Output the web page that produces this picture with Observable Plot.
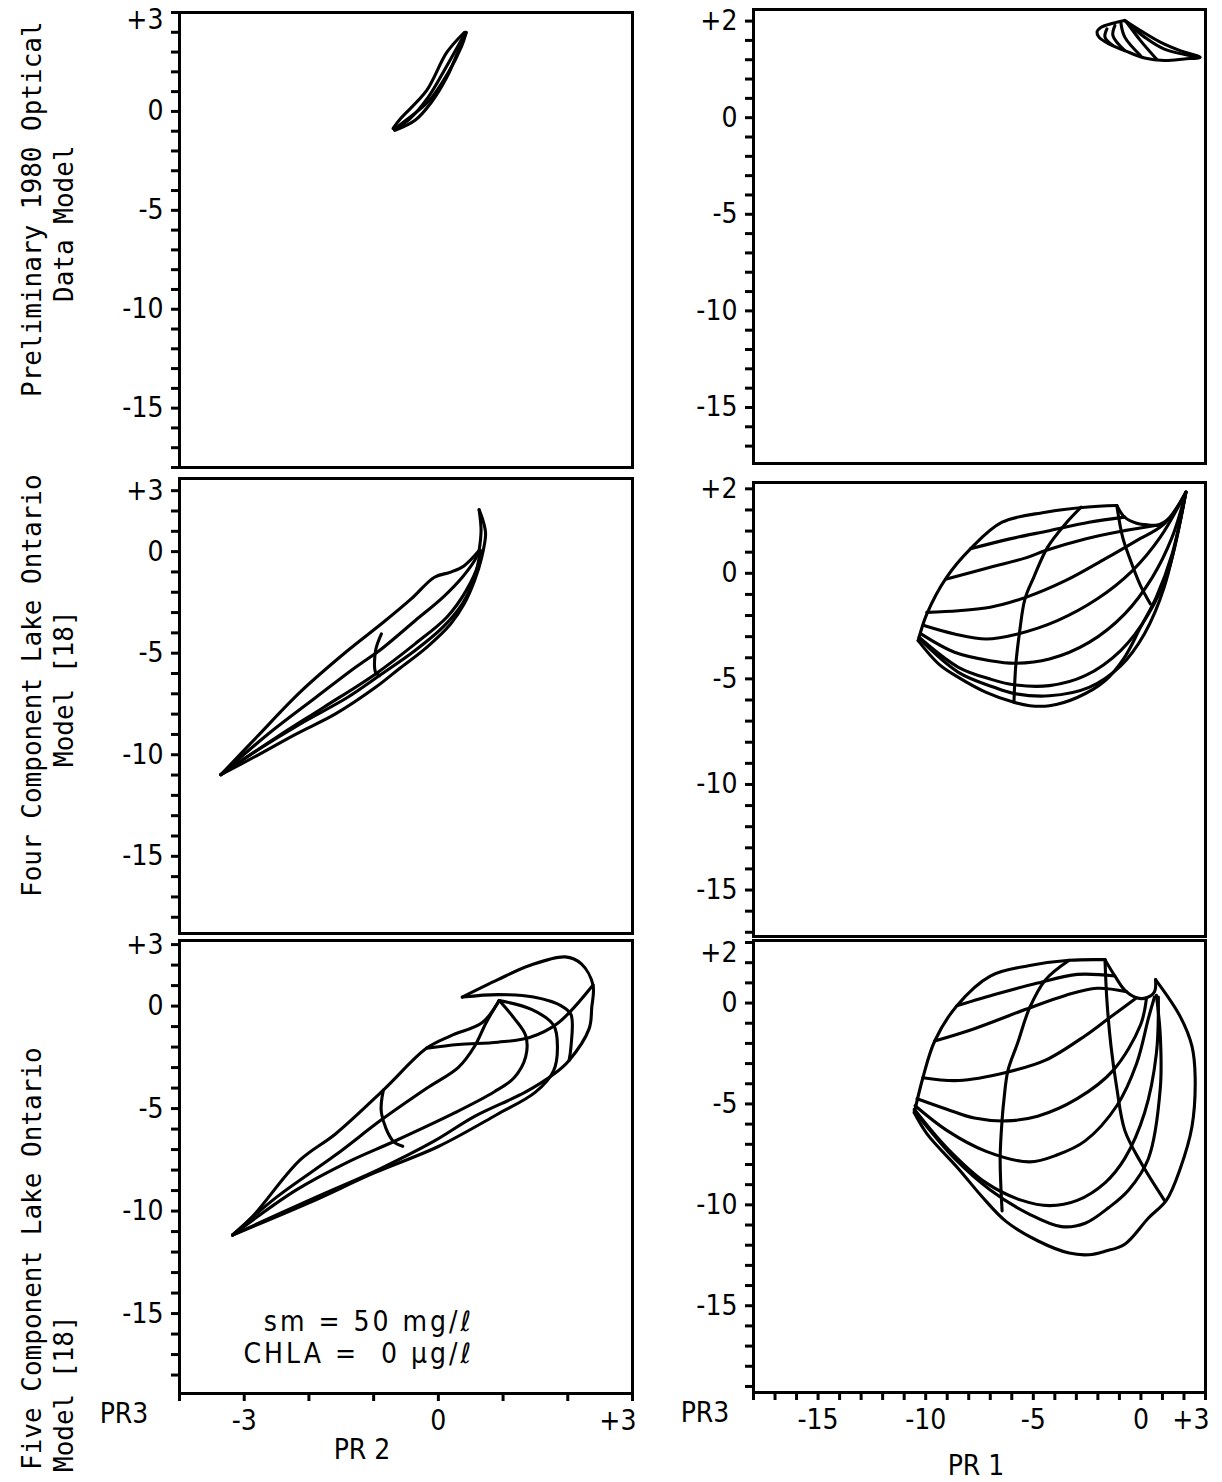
<!DOCTYPE html>
<html><head><meta charset="utf-8">
<script src="https://cdn.jsdelivr.net/npm/d3@7"></script>
<script src="https://cdn.jsdelivr.net/npm/@observablehq/plot@0.6"></script>
<style>
body{margin:0;background:#fff;}
#page{position:relative;width:1222px;height:1482px;background:#fff;overflow:hidden;color:#000;}
.lbl{position:absolute;white-space:pre;font-family:'Liberation Sans Narrow','DejaVu Sans Condensed','Liberation Sans',sans-serif;font-size:28px;line-height:28px;color:#000;}
.rot{position:absolute;white-space:pre;font-family:'DejaVu Sans Mono',monospace;font-size:26px;line-height:26px;transform-origin:0 0;transform:rotate(-90deg);color:#000;}
</style></head><body><div id="page"></div>
<script>
// ---------- axes / labels ----------
const pr2Domain = [-4, 3];
const pr1Domain = [-18, 3];
const pr3DomainsLeft = [[-18.0, 5.0], [-18.8, 3.6], [-18.9, 3.2]];
const pr3DomainsRight = [[-17.9, 5.6], [-17.2, 4.3], [-19.3, 3.1]];
const pr3LabelsLeft = ["+3", "0", "-5", "-10", "-15"];
const pr3LabelPosLeft = [[4.6, 0, -5, -10, -15], [3, 0, -5, -10, -15], [3, 0, -5, -10, -15]];
const pr3LabelsRight = ["+2", "0", "-5", "-10", "-15"];
const pr3LabelPosRight = [[5.0, 0, -5, -10, -15], [4.0, 0, -5, -10, -15], [2.5, 0, -5, -10, -15]];
const pr2TickValues = [-3, 0, 3];
const pr2TickLabels = ["-3", "0", "+3"];
const pr1TickValues = [-15, -10, -5, 0, 3];
const pr1TickLabels = ["-15", "-10", "-5", "0", "+3"];
const rowTitles = [["Preliminary 1980 Optical", "Data Model"], ["Four Component Lake Ontario", "Model [18]"], ["Five Component Lake Ontario", "Model [18]"]];
const annotation = ["sm = 50 mg/ℓ", "CHLA =  0 μg/ℓ"];

// ---------- curves: [PR, PR3] ----------
const opticalPR2 = [
  [[-0.70,-0.86],[-0.58,-0.35],[-0.18,1.06],[0.13,2.98],[0.40,3.99]],
  [[-0.68,-0.92],[-0.45,-0.40],[-0.15,0.75],[0.13,2.30],[0.42,3.99]],
  [[-0.68,-0.90],[-0.50,-0.45],[-0.14,0.55],[0.16,2.00],[0.36,3.30],[0.43,3.99]],
  [[-0.67,-0.96],[-0.36,-0.45],[-0.11,0.45],[0.13,1.72],[0.33,3.23],[0.43,3.99]]
];
const opticalPR1 = [
  [[-0.75,5.03],[-0.02,4.51],[0.90,3.91],[1.82,3.47],[2.74,3.13],[2.01,3.04],[1.09,2.96],[0.17,3.09],[-0.75,3.47],[-1.49,3.82],[-1.95,4.17],[-2.04,4.43],[-1.85,4.68],[-1.30,4.89],[-0.75,5.03]],
  [[-1.58,4.60],[-1.67,4.17],[-1.30,3.73]],
  [[-1.21,4.77],[-1.30,4.25],[-0.75,3.47]],
  [[-0.93,4.89],[-0.75,4.17],[-0.02,3.22]],
  [[-0.66,4.94],[-0.02,3.99],[0.72,3.04]],
  [[-0.75,5.03],[0.17,4.17],[1.09,3.55],[2.74,3.13]]
];
const fourPR2 = [
  [[-3.36,-10.98],[-2.81,-9.14],[-2.14,-6.93],[-1.40,-4.87],[-0.85,-3.48],[-0.42,-2.33],[-0.06,-1.26],[0.19,-1.01],[0.40,-0.69],[0.63,0.05]],
  [[-3.36,-10.98],[-2.63,-8.98],[-1.89,-7.17],[-1.28,-5.69],[-0.91,-4.87],[-0.36,-3.40],[0.07,-2.25],[0.37,-1.26],[0.56,-0.44],[0.63,0.05]],
  [[-3.36,-10.98],[-2.50,-9.14],[-1.77,-7.66],[-0.97,-6.02],[-0.36,-4.54],[0.13,-3.23],[0.43,-1.92],[0.62,-0.60],[0.65,0.05]],
  [[-3.36,-10.98],[-2.81,-9.80],[-2.14,-8.49],[-1.40,-7.17],[-0.91,-6.10],[-0.36,-4.87],[0.07,-3.72],[0.37,-2.57],[0.56,-1.26],[0.65,0.05]],
  [[-3.36,-10.98],[-2.81,-10.05],[-2.20,-8.98],[-1.59,-7.99],[-0.97,-6.68],[-0.61,-5.78],[-0.18,-4.71],[0.19,-3.56],[0.40,-2.57],[0.56,-1.42],[0.67,-0.28],[0.73,0.87],[0.69,1.53],[0.63,2.06]],
  [[-0.88,-4.05],[-0.97,-4.87],[-0.97,-5.94],[-0.91,-6.10]],
  [[0.63,0.05],[0.66,1.04],[0.63,2.06]]
];
const fourPR1 = [
  [[-10.35,-3.19],[-9.95,-1.93],[-9.03,-0.19],[-7.92,1.16],[-6.45,2.42],[-4.43,2.89],[-2.59,3.13],[-1.12,3.21]],
  [[-1.12,3.21],[-0.76,2.66],[-0.20,2.37],[0.35,2.29],[0.81,2.29],[1.36,2.66],[2.09,3.84]],
  [[-10.35,-3.19],[-9.39,-4.30],[-8.48,-4.93],[-7.19,-5.64],[-5.90,-6.11],[-5.17,-6.27],[-4.25,-6.27],[-2.96,-5.88],[-1.67,-5.09],[-0.76,-3.98],[-0.02,-2.56],[0.71,-1.14],[1.45,0.92],[2.09,3.84]],
  [[-7.92,1.16],[-6.09,1.63],[-4.25,2.02],[-2.41,2.42],[-0.76,2.66]],
  [[-9.03,-0.27],[-7.00,0.29],[-5.35,0.73],[-4.43,1.08],[-2.59,1.63],[-0.76,2.02],[0.81,2.29]],
  [[-9.95,-1.85],[-8.48,-1.77],[-7.00,-1.61],[-5.35,-1.14],[-3.51,-0.35],[-1.67,0.68],[-0.20,1.55],[1.08,2.34],[2.09,3.84]],
  [[-10.04,-2.48],[-8.66,-2.87],[-7.19,-3.11],[-5.72,-2.87],[-3.88,-2.24],[-2.04,-1.22],[-0.39,0.13],[0.90,1.71],[2.09,3.84]],
  [[-10.22,-2.87],[-8.66,-3.74],[-7.00,-4.14],[-5.81,-4.26],[-4.25,-4.06],[-2.41,-3.27],[-0.76,-1.93],[0.53,-0.19],[1.45,1.71],[2.09,3.84]],
  [[-10.31,-3.03],[-8.48,-4.45],[-7.00,-5.01],[-5.90,-5.28],[-4.25,-5.32],[-2.59,-4.85],[-0.94,-3.66],[0.35,-1.93],[1.27,0.13],[2.09,3.84]],
  [[-10.28,-3.11],[-8.48,-4.69],[-6.82,-5.40],[-5.90,-5.69],[-4.25,-5.80],[-2.41,-5.40],[-0.94,-4.38],[0.16,-2.87],[1.08,-0.66],[2.09,3.84]],
  [[-2.78,3.13],[-3.51,2.34],[-4.34,1.23],[-4.98,-0.19],[-5.39,-1.22],[-5.63,-2.72],[-5.81,-4.30],[-5.90,-6.11]],
  [[-1.12,3.21],[-0.85,1.71],[-0.48,0.60],[-0.02,-0.58],[0.44,-1.45]]
];
const fivePR2 = [
  [[-3.18,-11.17],[-1.89,-9.32],[-0.91,-7.95],[-0.06,-6.58],[0.56,-5.38],[1.35,-4.19],[1.78,-3.33],[2.02,-2.65],[2.33,-1.10],[2.37,-0.08],[2.39,1.03],[2.21,2.06],[1.96,2.40],[1.41,1.98],[0.92,1.29],[0.37,0.44]],
  [[0.37,0.44],[0.92,0.56],[1.47,0.44],[1.90,0.01],[2.05,-0.42],[2.05,-1.96],[2.02,-2.65]],
  [[-0.18,-2.05],[0.31,-1.87],[0.92,-1.76],[1.41,-1.53],[1.84,-0.85],[2.39,1.03]],
  [[-3.18,-11.17],[-2.87,-10.26],[-2.14,-7.52],[-1.59,-6.24],[-0.85,-4.10],[-0.18,-2.05],[0.19,-1.45],[0.68,-0.80],[0.94,0.27]],
  [[-3.18,-11.17],[-2.50,-9.32],[-1.59,-7.27],[-0.88,-5.55],[-0.18,-4.01],[0.31,-2.99],[0.56,-1.96],[0.74,-0.80],[0.94,0.27]],
  [[-3.18,-11.17],[-2.20,-8.98],[-1.40,-7.61],[-0.67,-6.58],[0.25,-5.21],[0.86,-4.19],[1.17,-3.50],[1.35,-2.47],[1.35,-1.45],[1.17,-0.59],[0.94,0.27]],
  [[-3.18,-11.17],[-2.00,-9.60],[-1.00,-8.15],[0.00,-6.85],[0.90,-5.30],[1.50,-4.20],[1.78,-3.16],[1.84,-1.96],[1.78,-0.93],[1.44,-0.16],[0.94,0.27]],
  [[-0.85,-4.10],[-0.88,-5.21],[-0.70,-6.58],[-0.55,-6.84]]
];
const fivePR1 = [
  [[-10.53,-5.44],[-10.13,-3.70],[-9.58,-1.88],[-8.56,-0.14],[-7.00,1.34],[-5.17,1.86],[-3.33,2.12],[-1.67,2.15]],
  [[-1.67,2.15],[-1.21,1.34],[-0.75,0.64],[-0.20,0.26],[0.26,0.26],[0.63,0.56],[0.68,1.16]],
  [[0.68,1.16],[1.82,-0.66],[2.37,-2.14],[2.52,-3.70],[2.37,-6.13],[1.82,-8.22],[1.18,-9.78],[0.35,-10.65],[-0.75,-11.95],[-1.67,-12.30],[-2.41,-12.47],[-3.33,-12.39],[-4.80,-11.78],[-6.27,-10.82],[-7.37,-9.61],[-8.47,-8.22],[-9.94,-6.48],[-10.53,-5.44]],
  [[-8.56,-0.14],[-6.63,0.47],[-4.80,0.99],[-2.96,1.42],[-1.21,1.34]],
  [[-9.58,-1.88],[-7.74,-1.27],[-5.35,-0.31],[-3.51,0.38],[-2.04,0.73],[-0.66,0.56]],
  [[-10.13,-3.70],[-8.47,-3.84],[-6.27,-3.44],[-4.43,-2.83],[-2.59,-1.62],[-1.49,-0.75],[-0.20,0.26]],
  [[-10.40,-4.74],[-9.02,-5.26],[-7.74,-5.70],[-6.27,-5.84],[-4.80,-5.61],[-2.96,-4.74],[-1.30,-3.35],[-0.02,-1.09],[0.26,0.26]],
  [[-10.49,-5.09],[-9.02,-6.31],[-7.19,-7.35],[-5.17,-7.87],[-3.88,-7.52],[-2.59,-6.83],[-1.12,-5.09],[-0.20,-3.00],[0.35,-0.75],[0.63,0.30]],
  [[-10.53,-5.26],[-9.02,-7.17],[-7.19,-8.91],[-5.53,-9.78],[-4.24,-10.04],[-2.96,-9.78],[-1.67,-8.91],[-0.75,-7.70],[0.17,-5.44],[0.72,-2.48],[0.81,0.30]],
  [[-10.53,-5.35],[-8.66,-7.70],[-7.00,-9.26],[-5.17,-10.47],[-3.69,-11.08],[-2.59,-10.91],[-1.49,-10.13],[-0.57,-9.26],[0.35,-7.70],[0.90,-4.22],[0.90,-1.62],[0.72,0.38]],
  [[-3.33,2.12],[-4.43,1.16],[-5.17,-0.23],[-5.72,-1.96],[-6.18,-3.35],[-6.36,-4.74],[-6.45,-5.79],[-6.54,-7.70],[-6.45,-10.30]],
  [[-1.67,2.15],[-1.58,0.12],[-1.39,-2.14],[-1.12,-4.22],[-0.75,-6.31],[-0.02,-7.87],[1.09,-9.78]]
];

// ---------- layout ----------
const page = document.getElementById("page");
const FONT = "'Liberation Sans Narrow','DejaVu Sans Condensed','Liberation Sans',sans-serif";

function panel(cfg) {
  const {curves, xDomain, yDomain, yLabPos, yLabText, bottom, xTickValues, xTickLabels, fx, fy, fw, fh} = cfg;
  const mL = 90, mR = 16, mT = 12, mB = bottom ? 60 : 12;
  const rows = curves.flatMap((c, i) => c.map(([x, y]) => ({x, y, id: i})));
  const yLab = yLabPos.map((v, i) => ({v, t: yLabText[i]}));
  const marks = [
    Plot.axisY({ticks: d3.range(Math.ceil(yDomain[0]), Math.floor(yDomain[1]) + 1), tickSize: 8, strokeWidth: 3, tickFormat: () => "", label: null}),
    Plot.text(yLab, {y: "v", text: "t", frameAnchor: "left", textAnchor: "end", dx: -16, fontSize: 28}),
    Plot.line(rows, {x: "x", y: "y", z: "id", stroke: "#000", strokeWidth: 3.1, curve: "catmull-rom", strokeLinejoin: "round", strokeLinecap: "round"}),
    Plot.frame({stroke: "#000", strokeWidth: 3})
  ];
  if (bottom) {
    marks.push(Plot.axisX({ticks: d3.range(Math.ceil(xDomain[0]), Math.floor(xDomain[1]) + 1), tickSize: 8, strokeWidth: 3, tickFormat: () => "", label: null}));
    const xl = xTickValues.map((v, i) => ({v, t: xTickLabels[i]}));
    const last = xl.length - 1;
    marks.push(Plot.text(xl.slice(0, last), {x: "v", text: "t", frameAnchor: "bottom", dy: 36, fontSize: 28}));
    marks.push(Plot.text(xl.slice(last), {x: "v", text: "t", frameAnchor: "bottom", textAnchor: "end", dx: 4, dy: 36, fontSize: 28}));
  }
  const opts = {
    width: mL + fw + mR, height: mT + fh + mB,
    marginLeft: mL, marginRight: mR, marginTop: mT, marginBottom: mB,
    x: bottom ? {domain: xDomain} : {domain: xDomain, axis: null},
    y: {domain: yDomain},
    style: {background: "transparent", overflow: "visible", fontFamily: FONT, fontSize: "28px", color: "#000"},
    marks
  };
  const svg = Plot.plot(opts);
  svg.style.position = "absolute";
  svg.style.left = (fx - mL) + "px";
  svg.style.top = (fy - mT) + "px";
  svg.style.maxWidth = "none";
  page.appendChild(svg);
}

const leftCurves = [opticalPR2, fourPR2, fivePR2];
const rightCurves = [opticalPR1, fourPR1, fivePR1];
const leftFrames = [[12, 455], [478, 455], [940, 453]];
const rightFrames = [[9, 454], [482, 454], [940, 452]];
for (let r = 0; r < 3; r++) {
  panel({curves: leftCurves[r], xDomain: pr2Domain, yDomain: pr3DomainsLeft[r], yLabPos: pr3LabelPosLeft[r], yLabText: pr3LabelsLeft,
    bottom: r === 2, xTickValues: pr2TickValues, xTickLabels: pr2TickLabels, fx: 179, fy: leftFrames[r][0], fw: 453, fh: leftFrames[r][1]});
  panel({curves: rightCurves[r], xDomain: pr1Domain, yDomain: pr3DomainsRight[r], yLabPos: pr3LabelPosRight[r], yLabText: pr3LabelsRight,
    bottom: r === 2, xTickValues: pr1TickValues, xTickLabels: pr1TickLabels, fx: 753, fy: rightFrames[r][0], fw: 452, fh: rightFrames[r][1]});
}

// ---------- text ----------
function rotText(t, baselineX, startY) {
  const d = document.createElement("div");
  d.className = "rot"; d.textContent = t;
  d.style.left = (baselineX - 22) + "px"; d.style.top = startY + "px";
  page.appendChild(d);
}
const titleStarts = [[397, 302], [897, 767], [1470, 1472]];
rowTitles.forEach((lines, r) => { rotText(lines[0], 41, titleStarts[r][0]); rotText(lines[1], 73, titleStarts[r][1]); });

function label(t, x, cy, align) {
  const d = document.createElement("div");
  d.className = "lbl"; d.textContent = t;
  d.style.top = (cy - 14) + "px";
  if (align === "right") { d.style.right = (1222 - x) + "px"; d.style.textAlign = "right"; d.style.letterSpacing = "3px"; }
  else { d.style.left = (x - 100) + "px"; d.style.width = "200px"; d.style.textAlign = "center"; }
  page.appendChild(d);
}
label("PR3", 124, 1414);
label("PR3", 705, 1413);
label("PR 2", 362, 1450);
label("PR 1", 976, 1466);
label(annotation[0], 474, 1322, "right");
label(annotation[1], 474, 1354, "right");
</script></body></html>
